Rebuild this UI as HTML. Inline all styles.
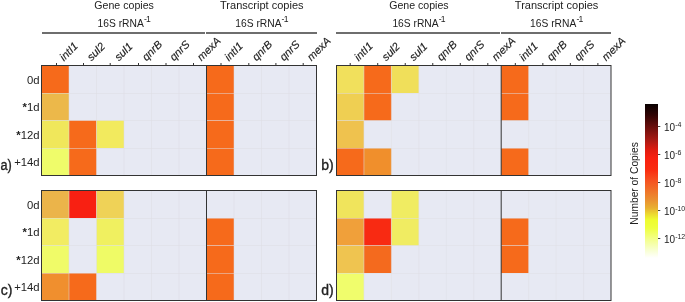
<!DOCTYPE html><html><head><meta charset="utf-8"><style>html,body{margin:0;padding:0;background:#fff;width:685px;height:302px;overflow:hidden}svg{display:block;will-change:transform}text{font-family:"Liberation Sans",sans-serif;fill:#222}</style></head><body>
<svg width="685" height="302" viewBox="0 0 685 302">
<defs><linearGradient id="cb" x1="0" y1="0" x2="0" y2="1">
<stop offset="0.0000" stop-color="#080000"/>
<stop offset="0.0705" stop-color="#300404"/>
<stop offset="0.1474" stop-color="#6a0e0c"/>
<stop offset="0.2308" stop-color="#a81a14"/>
<stop offset="0.2949" stop-color="#e01c10"/>
<stop offset="0.3462" stop-color="#f82010"/>
<stop offset="0.4231" stop-color="#fa2c10"/>
<stop offset="0.4872" stop-color="#f65020"/>
<stop offset="0.5513" stop-color="#f07028"/>
<stop offset="0.6154" stop-color="#ea9030"/>
<stop offset="0.6667" stop-color="#e8b030"/>
<stop offset="0.7051" stop-color="#ecd830"/>
<stop offset="0.7436" stop-color="#eefc30"/>
<stop offset="0.7949" stop-color="#eeff40"/>
<stop offset="0.8718" stop-color="#f4ff90"/>
<stop offset="0.9359" stop-color="#f8ffd0"/>
<stop offset="0.9872" stop-color="#ffffff"/>
<stop offset="1.0000" stop-color="#ffffff"/>
</linearGradient></defs>
<g transform="translate(0,0)">
<rect x="41.5" y="65.5" width="275" height="110" fill="#e7e9f3"/>
<rect x="41.500" y="65.500" width="27.500" height="27.500" fill="#f66a1b"/>
<rect x="41.500" y="93.000" width="27.500" height="27.500" fill="#ecb84a"/>
<rect x="41.500" y="120.500" width="27.500" height="27.500" fill="#f0e75b"/>
<rect x="69.000" y="120.500" width="27.500" height="27.500" fill="#f66a1b"/>
<rect x="96.500" y="120.500" width="27.500" height="27.500" fill="#f2ea5e"/>
<rect x="41.500" y="148.000" width="27.500" height="27.500" fill="#effc6a"/>
<rect x="69.000" y="148.000" width="27.500" height="27.500" fill="#f66a1b"/>
<rect x="206.500" y="65.500" width="27.500" height="27.500" fill="#f66a1b"/>
<rect x="206.500" y="93.000" width="27.500" height="27.500" fill="#f66a1b"/>
<rect x="206.500" y="120.500" width="27.500" height="27.500" fill="#f66a1b"/>
<rect x="206.500" y="148.000" width="27.500" height="27.500" fill="#f66a1b"/>
<line x1="69.000" y1="66" x2="69.000" y2="175" stroke="rgba(222,222,228,0.5)" stroke-width="1"/>
<line x1="96.500" y1="66" x2="96.500" y2="175" stroke="rgba(222,222,228,0.5)" stroke-width="1"/>
<line x1="124.000" y1="66" x2="124.000" y2="175" stroke="rgba(222,222,228,0.5)" stroke-width="1"/>
<line x1="151.500" y1="66" x2="151.500" y2="175" stroke="rgba(222,222,228,0.5)" stroke-width="1"/>
<line x1="179.000" y1="66" x2="179.000" y2="175" stroke="rgba(222,222,228,0.5)" stroke-width="1"/>
<line x1="234.000" y1="66" x2="234.000" y2="175" stroke="rgba(222,222,228,0.5)" stroke-width="1"/>
<line x1="261.500" y1="66" x2="261.500" y2="175" stroke="rgba(222,222,228,0.5)" stroke-width="1"/>
<line x1="289.000" y1="66" x2="289.000" y2="175" stroke="rgba(222,222,228,0.5)" stroke-width="1"/>
<line x1="42" y1="93.500" x2="316" y2="93.500" stroke="rgba(222,222,228,0.5)" stroke-width="1"/>
<line x1="42" y1="120.500" x2="316" y2="120.500" stroke="rgba(222,222,228,0.5)" stroke-width="1"/>
<line x1="42" y1="148.500" x2="316" y2="148.500" stroke="rgba(222,222,228,0.5)" stroke-width="1"/>
<line x1="206.5" y1="66" x2="206.5" y2="175" stroke="#333" stroke-width="1"/>
<rect x="41.5" y="65.5" width="275" height="110" fill="none" stroke="#333" stroke-width="1"/>
</g>
<g transform="translate(336.5,0) scale(0.99818,1) translate(-41.5,0)">
<rect x="41.5" y="65.5" width="275" height="110" fill="#e7e9f3"/>
<rect x="41.500" y="65.500" width="27.500" height="27.500" fill="#f1e05c"/>
<rect x="69.000" y="65.500" width="27.500" height="27.500" fill="#f66a1b"/>
<rect x="96.500" y="65.500" width="27.500" height="27.500" fill="#f0df5a"/>
<rect x="41.500" y="93.000" width="27.500" height="27.500" fill="#efcf52"/>
<rect x="69.000" y="93.000" width="27.500" height="27.500" fill="#f66a1b"/>
<rect x="41.500" y="120.500" width="27.500" height="27.500" fill="#efc24e"/>
<rect x="41.500" y="148.000" width="27.500" height="27.500" fill="#f66a1b"/>
<rect x="69.000" y="148.000" width="27.500" height="27.500" fill="#f08f2c"/>
<rect x="206.500" y="65.500" width="27.500" height="27.500" fill="#f66a1b"/>
<rect x="206.500" y="93.000" width="27.500" height="27.500" fill="#f66a1b"/>
<rect x="206.500" y="148.000" width="27.500" height="27.500" fill="#f66a1b"/>
<line x1="69.000" y1="66" x2="69.000" y2="175" stroke="rgba(222,222,228,0.5)" stroke-width="1"/>
<line x1="96.500" y1="66" x2="96.500" y2="175" stroke="rgba(222,222,228,0.5)" stroke-width="1"/>
<line x1="124.000" y1="66" x2="124.000" y2="175" stroke="rgba(222,222,228,0.5)" stroke-width="1"/>
<line x1="151.500" y1="66" x2="151.500" y2="175" stroke="rgba(222,222,228,0.5)" stroke-width="1"/>
<line x1="179.000" y1="66" x2="179.000" y2="175" stroke="rgba(222,222,228,0.5)" stroke-width="1"/>
<line x1="234.000" y1="66" x2="234.000" y2="175" stroke="rgba(222,222,228,0.5)" stroke-width="1"/>
<line x1="261.500" y1="66" x2="261.500" y2="175" stroke="rgba(222,222,228,0.5)" stroke-width="1"/>
<line x1="289.000" y1="66" x2="289.000" y2="175" stroke="rgba(222,222,228,0.5)" stroke-width="1"/>
<line x1="42" y1="93.500" x2="316" y2="93.500" stroke="rgba(222,222,228,0.5)" stroke-width="1"/>
<line x1="42" y1="120.500" x2="316" y2="120.500" stroke="rgba(222,222,228,0.5)" stroke-width="1"/>
<line x1="42" y1="148.500" x2="316" y2="148.500" stroke="rgba(222,222,228,0.5)" stroke-width="1"/>
<line x1="206.5" y1="66" x2="206.5" y2="175" stroke="#333" stroke-width="1"/>
<rect x="41.5" y="65.5" width="275" height="110" fill="none" stroke="#333" stroke-width="1"/>
</g>
<g transform="translate(0,125)">
<rect x="41.5" y="65.5" width="275" height="110" fill="#e7e9f3"/>
<rect x="41.500" y="65.500" width="27.500" height="27.500" fill="#ebb44a"/>
<rect x="69.000" y="65.500" width="27.500" height="27.500" fill="#f82012"/>
<rect x="96.500" y="65.500" width="27.500" height="27.500" fill="#efd257"/>
<rect x="41.500" y="93.000" width="27.500" height="27.500" fill="#f2ec62"/>
<rect x="96.500" y="93.000" width="27.500" height="27.500" fill="#f0f060"/>
<rect x="41.500" y="120.500" width="27.500" height="27.500" fill="#f0fb68"/>
<rect x="96.500" y="120.500" width="27.500" height="27.500" fill="#effb66"/>
<rect x="41.500" y="148.000" width="27.500" height="27.500" fill="#f08f2e"/>
<rect x="69.000" y="148.000" width="27.500" height="27.500" fill="#f66a1b"/>
<rect x="206.500" y="93.000" width="27.500" height="27.500" fill="#f66a1b"/>
<rect x="206.500" y="120.500" width="27.500" height="27.500" fill="#f66a1b"/>
<rect x="206.500" y="148.000" width="27.500" height="27.500" fill="#f66a1b"/>
<line x1="69.000" y1="66" x2="69.000" y2="175" stroke="rgba(222,222,228,0.5)" stroke-width="1"/>
<line x1="96.500" y1="66" x2="96.500" y2="175" stroke="rgba(222,222,228,0.5)" stroke-width="1"/>
<line x1="124.000" y1="66" x2="124.000" y2="175" stroke="rgba(222,222,228,0.5)" stroke-width="1"/>
<line x1="151.500" y1="66" x2="151.500" y2="175" stroke="rgba(222,222,228,0.5)" stroke-width="1"/>
<line x1="179.000" y1="66" x2="179.000" y2="175" stroke="rgba(222,222,228,0.5)" stroke-width="1"/>
<line x1="234.000" y1="66" x2="234.000" y2="175" stroke="rgba(222,222,228,0.5)" stroke-width="1"/>
<line x1="261.500" y1="66" x2="261.500" y2="175" stroke="rgba(222,222,228,0.5)" stroke-width="1"/>
<line x1="289.000" y1="66" x2="289.000" y2="175" stroke="rgba(222,222,228,0.5)" stroke-width="1"/>
<line x1="42" y1="93.500" x2="316" y2="93.500" stroke="rgba(222,222,228,0.5)" stroke-width="1"/>
<line x1="42" y1="120.500" x2="316" y2="120.500" stroke="rgba(222,222,228,0.5)" stroke-width="1"/>
<line x1="42" y1="148.500" x2="316" y2="148.500" stroke="rgba(222,222,228,0.5)" stroke-width="1"/>
<line x1="206.5" y1="66" x2="206.5" y2="175" stroke="#333" stroke-width="1"/>
<rect x="41.5" y="65.5" width="275" height="110" fill="none" stroke="#333" stroke-width="1"/>
</g>
<g transform="translate(336.5,125) scale(0.99818,1) translate(-41.5,0)">
<rect x="41.5" y="65.5" width="275" height="110" fill="#e7e9f3"/>
<rect x="41.500" y="65.500" width="27.500" height="27.500" fill="#f0e45c"/>
<rect x="96.500" y="65.500" width="27.500" height="27.500" fill="#f0ec62"/>
<rect x="41.500" y="93.000" width="27.500" height="27.500" fill="#f0a03a"/>
<rect x="69.000" y="93.000" width="27.500" height="27.500" fill="#f82a12"/>
<rect x="96.500" y="93.000" width="27.500" height="27.500" fill="#f0ec62"/>
<rect x="41.500" y="120.500" width="27.500" height="27.500" fill="#efc450"/>
<rect x="69.000" y="120.500" width="27.500" height="27.500" fill="#f46a1e"/>
<rect x="41.500" y="148.000" width="27.500" height="27.500" fill="#f0fd6c"/>
<rect x="206.500" y="93.000" width="27.500" height="27.500" fill="#f66a1b"/>
<rect x="206.500" y="120.500" width="27.500" height="27.500" fill="#f66a1b"/>
<line x1="69.000" y1="66" x2="69.000" y2="175" stroke="rgba(222,222,228,0.5)" stroke-width="1"/>
<line x1="96.500" y1="66" x2="96.500" y2="175" stroke="rgba(222,222,228,0.5)" stroke-width="1"/>
<line x1="124.000" y1="66" x2="124.000" y2="175" stroke="rgba(222,222,228,0.5)" stroke-width="1"/>
<line x1="151.500" y1="66" x2="151.500" y2="175" stroke="rgba(222,222,228,0.5)" stroke-width="1"/>
<line x1="179.000" y1="66" x2="179.000" y2="175" stroke="rgba(222,222,228,0.5)" stroke-width="1"/>
<line x1="234.000" y1="66" x2="234.000" y2="175" stroke="rgba(222,222,228,0.5)" stroke-width="1"/>
<line x1="261.500" y1="66" x2="261.500" y2="175" stroke="rgba(222,222,228,0.5)" stroke-width="1"/>
<line x1="289.000" y1="66" x2="289.000" y2="175" stroke="rgba(222,222,228,0.5)" stroke-width="1"/>
<line x1="42" y1="93.500" x2="316" y2="93.500" stroke="rgba(222,222,228,0.5)" stroke-width="1"/>
<line x1="42" y1="120.500" x2="316" y2="120.500" stroke="rgba(222,222,228,0.5)" stroke-width="1"/>
<line x1="42" y1="148.500" x2="316" y2="148.500" stroke="rgba(222,222,228,0.5)" stroke-width="1"/>
<line x1="206.5" y1="66" x2="206.5" y2="175" stroke="#333" stroke-width="1"/>
<rect x="41.5" y="65.5" width="275" height="110" fill="none" stroke="#333" stroke-width="1"/>
</g>
<rect x="56.00" y="63" width="1" height="2.2" fill="#333"/>
<rect x="349.70" y="63" width="1" height="2.2" fill="#333"/>
<rect x="83.00" y="63" width="1" height="2.2" fill="#333"/>
<rect x="377.22" y="63" width="1" height="2.2" fill="#333"/>
<rect x="109.70" y="63" width="1" height="2.2" fill="#333"/>
<rect x="404.74" y="63" width="1" height="2.2" fill="#333"/>
<rect x="138.00" y="63" width="1" height="2.2" fill="#333"/>
<rect x="432.26" y="63" width="1" height="2.2" fill="#333"/>
<rect x="165.50" y="63" width="1" height="2.2" fill="#333"/>
<rect x="459.78" y="63" width="1" height="2.2" fill="#333"/>
<rect x="193.00" y="63" width="1" height="2.2" fill="#333"/>
<rect x="487.30" y="63" width="1" height="2.2" fill="#333"/>
<rect x="220.50" y="63" width="1" height="2.2" fill="#333"/>
<rect x="514.82" y="63" width="1" height="2.2" fill="#333"/>
<rect x="248.30" y="63" width="1" height="2.2" fill="#333"/>
<rect x="542.34" y="63" width="1" height="2.2" fill="#333"/>
<rect x="275.40" y="63" width="1" height="2.2" fill="#333"/>
<rect x="569.86" y="63" width="1" height="2.2" fill="#333"/>
<rect x="302.70" y="63" width="1" height="2.2" fill="#333"/>
<rect x="597.38" y="63" width="1" height="2.2" fill="#333"/>
<text x="0" y="0" font-size="11" font-style="italic" stroke="#222" stroke-width="0.15" transform="translate(63.95,61.5) rotate(-45)">intI1</text>
<text x="0" y="0" font-size="11" font-style="italic" stroke="#222" stroke-width="0.15" transform="translate(91.45,61.5) rotate(-45)">sul2</text>
<text x="0" y="0" font-size="11" font-style="italic" stroke="#222" stroke-width="0.15" transform="translate(118.95,61.5) rotate(-45)">sul1</text>
<text x="0" y="0" font-size="11" font-style="italic" stroke="#222" stroke-width="0.15" transform="translate(146.45,61.5) rotate(-45)">qnrB</text>
<text x="0" y="0" font-size="11" font-style="italic" stroke="#222" stroke-width="0.15" transform="translate(173.95,61.5) rotate(-45)">qnrS</text>
<text x="0" y="0" font-size="11" font-style="italic" stroke="#222" stroke-width="0.15" transform="translate(201.45,61.5) rotate(-45)">mexA</text>
<text x="0" y="0" font-size="11" font-style="italic" stroke="#222" stroke-width="0.15" transform="translate(228.95,61.5) rotate(-45)">intI1</text>
<text x="0" y="0" font-size="11" font-style="italic" stroke="#222" stroke-width="0.15" transform="translate(256.45,61.5) rotate(-45)">qnrB</text>
<text x="0" y="0" font-size="11" font-style="italic" stroke="#222" stroke-width="0.15" transform="translate(283.95,61.5) rotate(-45)">qnrS</text>
<text x="0" y="0" font-size="11" font-style="italic" stroke="#222" stroke-width="0.15" transform="translate(311.45,61.5) rotate(-45)">mexA</text>
<text x="0" y="0" font-size="11" font-style="italic" stroke="#222" stroke-width="0.15" transform="translate(358.75,61.5) rotate(-45)">intI1</text>
<text x="0" y="0" font-size="11" font-style="italic" stroke="#222" stroke-width="0.15" transform="translate(386.25,61.5) rotate(-45)">sul2</text>
<text x="0" y="0" font-size="11" font-style="italic" stroke="#222" stroke-width="0.15" transform="translate(413.75,61.5) rotate(-45)">sul1</text>
<text x="0" y="0" font-size="11" font-style="italic" stroke="#222" stroke-width="0.15" transform="translate(441.25,61.5) rotate(-45)">qnrB</text>
<text x="0" y="0" font-size="11" font-style="italic" stroke="#222" stroke-width="0.15" transform="translate(468.75,61.5) rotate(-45)">qnrS</text>
<text x="0" y="0" font-size="11" font-style="italic" stroke="#222" stroke-width="0.15" transform="translate(496.25,61.5) rotate(-45)">mexA</text>
<text x="0" y="0" font-size="11" font-style="italic" stroke="#222" stroke-width="0.15" transform="translate(523.75,61.5) rotate(-45)">intI1</text>
<text x="0" y="0" font-size="11" font-style="italic" stroke="#222" stroke-width="0.15" transform="translate(551.25,61.5) rotate(-45)">qnrB</text>
<text x="0" y="0" font-size="11" font-style="italic" stroke="#222" stroke-width="0.15" transform="translate(578.75,61.5) rotate(-45)">qnrS</text>
<text x="0" y="0" font-size="11" font-style="italic" stroke="#222" stroke-width="0.15" transform="translate(606.25,61.5) rotate(-45)">mexA</text>
<rect x="42" y="32" width="163" height="2" fill="#6e6e6e"/>
<rect x="206" y="32" width="111" height="2" fill="#6e6e6e"/>
<rect x="336" y="32" width="164" height="2" fill="#6e6e6e"/>
<rect x="501" y="32" width="110" height="2" fill="#6e6e6e"/>
<text x="124.1" y="9" font-size="11.3" text-anchor="middle" textLength="59.5" lengthAdjust="spacingAndGlyphs">Gene copies</text>
<text x="97.60" y="26.7" font-size="10.5" textLength="46.2" lengthAdjust="spacingAndGlyphs">16S rRNA</text>
<text x="143.90" y="21.8" font-size="8.6" letter-spacing="-0.8">-1</text>
<text x="235.30" y="26.7" font-size="10.5" textLength="46.2" lengthAdjust="spacingAndGlyphs">16S rRNA</text>
<text x="281.60" y="21.8" font-size="8.6" letter-spacing="-0.8">-1</text>
<text x="261.8" y="9" font-size="11.3" text-anchor="middle" textLength="83.5" lengthAdjust="spacingAndGlyphs">Transcript copies</text>
<text x="418.9" y="9" font-size="11.3" text-anchor="middle" textLength="59.5" lengthAdjust="spacingAndGlyphs">Gene copies</text>
<text x="392.40" y="26.7" font-size="10.5" textLength="46.2" lengthAdjust="spacingAndGlyphs">16S rRNA</text>
<text x="438.70" y="21.8" font-size="8.6" letter-spacing="-0.8">-1</text>
<text x="530.10" y="26.7" font-size="10.5" textLength="46.2" lengthAdjust="spacingAndGlyphs">16S rRNA</text>
<text x="576.40" y="21.8" font-size="8.6" letter-spacing="-0.8">-1</text>
<text x="556.6" y="9" font-size="11.3" text-anchor="middle" textLength="83.5" lengthAdjust="spacingAndGlyphs">Transcript copies</text>
<text x="39.6" y="83.85" font-size="11.3" text-anchor="end">0d</text>
<text x="39.6" y="111.35" font-size="11.3" text-anchor="end"><tspan font-weight="bold">*</tspan>1d</text>
<text x="39.6" y="138.85" font-size="11.3" text-anchor="end"><tspan font-weight="bold">*</tspan>12d</text>
<text x="39.6" y="166.35" font-size="11.3" text-anchor="end">+14d</text>
<text x="39.6" y="208.85" font-size="11.3" text-anchor="end">0d</text>
<text x="39.6" y="236.35" font-size="11.3" text-anchor="end"><tspan font-weight="bold">*</tspan>1d</text>
<text x="39.6" y="263.85" font-size="11.3" text-anchor="end"><tspan font-weight="bold">*</tspan>12d</text>
<text x="39.6" y="291.35" font-size="11.3" text-anchor="end">+14d</text>
<text x="0.5" y="170" font-size="14" stroke="#222" stroke-width="0.35" textLength="11.3" lengthAdjust="spacingAndGlyphs">a)</text>
<text x="321.3" y="170" font-size="14" stroke="#222" stroke-width="0.35">b)</text>
<text x="0.7" y="295" font-size="14" stroke="#222" stroke-width="0.35">c)</text>
<text x="321.3" y="295" font-size="14" stroke="#222" stroke-width="0.35">d)</text>
<rect x="645" y="104" width="13" height="156" fill="url(#cb)"/>
<rect x="658" y="126" width="2.3" height="1" fill="#444"/>
<text x="664" y="130.90" font-size="10">10<tspan font-size="7" dy="-4">-4</tspan></text>
<rect x="658" y="154" width="2.3" height="1" fill="#444"/>
<text x="664" y="158.85" font-size="10">10<tspan font-size="7" dy="-4">-6</tspan></text>
<rect x="658" y="182" width="2.3" height="1" fill="#444"/>
<text x="664" y="186.80" font-size="10">10<tspan font-size="7" dy="-4">-8</tspan></text>
<rect x="658" y="210" width="2.3" height="1" fill="#444"/>
<text x="664" y="214.75" font-size="10">10<tspan font-size="7" dy="-4">-10</tspan></text>
<rect x="658" y="238" width="2.3" height="1" fill="#444"/>
<text x="664" y="242.70" font-size="10">10<tspan font-size="7" dy="-4">-12</tspan></text>
<text x="0" y="0" font-size="10.8" text-anchor="middle" textLength="82.5" lengthAdjust="spacingAndGlyphs" transform="translate(638.1,183.4) rotate(-90)">Number of Copies</text>
</svg></body></html>
